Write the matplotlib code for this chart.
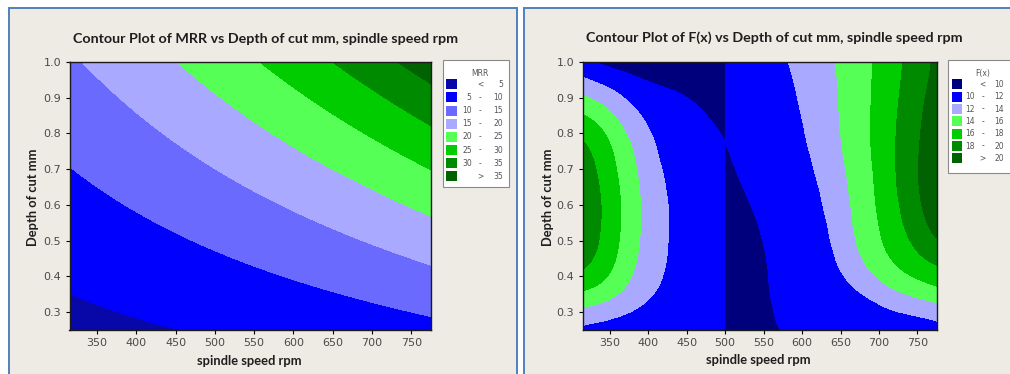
import numpy as np
import matplotlib as mpl
mpl.use("Agg")
import matplotlib.pyplot as plt
from matplotlib.patches import Rectangle
from matplotlib.ticker import FixedLocator, FormatStrFormatter

##########
## Data ##
##########

speed_range = [315,775]
depth_range = [0.25,1.0]
speed_ticks = [350,400,450,500,550,600,650,700,750]
depth_ticks = [0.3,0.4,0.5,0.6,0.7,0.8,0.9,1.0]

## MRR, points read along each contour boundary (rpm, mm, level)
mrr_speed = [315,373,426,
	315,352,395,437,480,522,564,607,649,692,734,775,
	337,373,416,458,501,543,586,628,671,713,775,
	452,522,564,607,649,692,734,775,
	550,607,649,692,734,775,
	649,713,775,
	728,775]
mrr_depth = [0.349,0.309,0.25,
	0.701,0.657,0.597,0.555,0.509,0.467,0.43,0.393,0.36,0.332,0.307,0.291,
	1.0,0.899,0.811,0.741,0.681,0.63,0.583,0.541,0.504,0.472,0.433,
	1.0,0.899,0.824,0.764,0.704,0.653,0.609,0.569,
	1.0,0.922,0.862,0.801,0.746,0.699,
	1.0,0.908,0.82,
	1.0,0.941]
mrr_level = [5]*3 + [10]*12 + [15]*11 + [20]*8 + [25]*6 + [30]*3 + [35]*2

mrr_bounds = [5,10,15,20,25,30,35]
mrr_colors = ["#0808A8","#0000FF","#6A6AFF","#A9A9FF","#55FF55","#00CC00","#008A00","#006200"]
mrr_rows   = [("","<","5"),("5","-","10"),("10","-","15"),("15","-","20"),
	("20","-","25"),("25","-","30"),("30","-","35"),("",">","35")]

## F(x), two branches on each side of 500 rpm
## boundary points, then a few points read inside the 10-12 band
fx_split = 500
fxL_speed = [329,333,377,441,463,485,499,
	315,333,355,377,398,411,422,426,424,418,405,385,355,315,
	315,338,359,377,385,390,389,383,368,342,315,
	315,338,351,359,364,362,355,338,315,
	315,329,338,340,336,325,315,
	470,480,470,495,497]
fxL_depth = [1.0,0.99,0.964,0.92,0.885,0.829,0.782,
	0.956,0.945,0.922,0.88,0.815,0.731,0.638,0.564,0.489,0.406,0.35,0.313,0.289,0.275,
	0.908,0.885,0.838,0.778,0.703,0.61,0.526,0.433,0.359,0.322,0.3125,
	0.852,0.824,0.768,0.685,0.592,0.508,0.433,0.378,0.359,
	0.787,0.731,0.638,0.582,0.489,0.433,0.415,
	0.6,0.4,0.27,0.3,0.7]
fxL_level = [10]*7 + [12]*14 + [14]*11 + [16]*9 + [18]*7 + [11,11,11.2,11,10.4]

fxR_speed = [500,511,528,545,558,567,571,
	584,593,604,614,625,636,645,658,679,701,736,775,
	642,647,653,660,664,671,684,710,744,775,
	692,690,694,701,714,736,775,
	731,725,722,729,744,775,
	768,757,753,750,755,766,775,
	510,540,560,600,650,720,590]
fxR_depth = [0.782,0.713,0.62,0.517,0.415,0.303,0.252,
	1.0,0.917,0.824,0.731,0.638,0.545,0.471,0.406,0.359,0.331,0.303,0.285,
	1.0,0.824,0.731,0.638,0.545,0.471,0.415,0.368,0.34,0.3265,
	1.0,0.824,0.685,0.545,0.452,0.406,0.368,
	1.0,0.871,0.731,0.592,0.499,0.433,
	1.0,0.871,0.778,0.685,0.592,0.527,0.499,
	0.95,0.9,0.75,0.4,0.3,0.27,0.26]
fxR_level = [10]*7 + [12]*12 + [14]*10 + [16]*7 + [18]*6 + [20]*7 + [10.8,11,11,11,11,11.3,10.6]

fx_bounds = [10,12,14,16,18,20]
fx_colors = ["#00007C","#0000FF","#A9A9FF","#55FF55","#00CC00","#008A00","#006200"]
fx_rows   = [("","<","10"),("10","-","12"),("12","-","14"),("14","-","16"),
	("16","-","18"),("18","-","20"),("",">","20")]

###############
## Fonctions ##
###############

W,H = 1010,374
bold_font = ["Lato","DejaVu Sans"]

def norm_xy( x , y ):##{{{
	## same scale as on screen (plot box 354 x 268 px)
	u = ( np.asarray(x,float).ravel() - speed_range[0] ) / 460. * 1.32
	v = ( np.asarray(y,float).ravel() - depth_range[0] ) / 0.75
	return np.column_stack([u,v])
##}}}

def fit_poly( x , y , z , deg ):##{{{
	## least squares polynomial surface (response surface)
	def feat( X , Y ):
		P = norm_xy(X,Y) - 0.6
		return np.stack( [ P[:,0]**i * P[:,1]**j for i in range(deg+1) for j in range(deg+1-i) ] , axis = -1 )
	coef,_,_,_ = np.linalg.lstsq( feat(x,y) , np.asarray(z,float) , rcond = None )
	return lambda X,Y : ( feat(X,Y) @ coef ).reshape(np.shape(X))
##}}}

def tps_kernel( r ):##{{{
	return np.where( r > 0 , r**2 * np.log( np.maximum(r,1e-12) ) , 0. )
##}}}

def fit_tps( x , y , z , lam = 0.01 ):##{{{
	## thin plate spline through the points
	P = norm_xy(x,y)
	n = P.shape[0]
	K = tps_kernel( np.linalg.norm( P[:,None,:] - P[None,:,:] , axis = -1 ) )
	Q = np.column_stack( [np.ones(n),P] )
	A = np.zeros( (n+3,n+3) )
	A[:n,:n] = K + lam * np.eye(n)
	A[:n,n:] = Q
	A[n:,:n] = Q.T
	sol = np.linalg.solve( A , np.concatenate( [np.asarray(z,float),np.zeros(3)] ) )
	w,c = sol[:n],sol[n:]
	def f( X , Y ):
		G = norm_xy(X,Y)
		Kg = tps_kernel( np.linalg.norm( G[:,None,:] - P[None,:,:] , axis = -1 ) )
		return ( Kg @ w + c[0] + G @ c[1:] ).reshape(np.shape(X))
	return f
##}}}

def px_rect( l , t , r , b ):##{{{
	return [ l / W , 1 - b / H , (r - l) / W , (b - t) / H ]
##}}}

def style_axes( ax ):##{{{
	ax.set_xlim(speed_range)
	ax.set_ylim(depth_range)
	ax.xaxis.set_major_locator( FixedLocator(speed_ticks) )
	ax.yaxis.set_major_locator( FixedLocator(depth_ticks) )
	ax.yaxis.set_major_formatter( FormatStrFormatter("%.1f") )
	ax.tick_params( direction = "out" , length = 3 , width = 0.8 , pad = 3 , labelsize = 8 , labelcolor = "#4a4a4a" )
	for s in ax.spines.values():
		s.set_linewidth(1.0)
		s.set_color("#1a1a1a")
##}}}

def draw_legend( bg , box , title , rows , colors , row0 , dy , cols ):##{{{
	l,t,r,b = box
	bg.add_patch( Rectangle( (l,t) , r - l , b - t , facecolor = "white" , edgecolor = "#8a8a8a" , lw = 0.8 ) )
	bg.text( cols[0] + 8 , t + 13.5 , title , ha = "center" , va = "center" , fontsize = 5.5 , color = "#555555" )
	for i,(lo,sym,hi) in enumerate(rows):
		yc = row0 + i * dy
		bg.add_patch( Rectangle( (l + 3.5 , yc - 5) , 10.5 , 10 , facecolor = colors[i] , edgecolor = "none" ) )
		bg.text( cols[0] , yc , lo  , ha = "right"  , va = "center" , fontsize = 5.5 , color = "#555555" )
		bg.text( cols[1] , yc , sym , ha = "center" , va = "center" , fontsize = 5.5 , color = "#555555" )
		bg.text( cols[2] , yc , hi  , ha = "right"  , va = "center" , fontsize = 5.5 , color = "#555555" )
##}}}

def plot():##{{{
	fig = plt.figure( figsize = (W/100,H/100) , dpi = 100 )
	fig.patch.set_facecolor("white")
	
	## Background: panels, titles, legends
	bg = fig.add_axes([0,0,1,1])
	bg.set_xlim(0,W)
	bg.set_ylim(H,0)
	bg.axis("off")
	bg.set_zorder(-1)
	for l,r in [(9,517),(524,1030)]:
		bg.add_patch( Rectangle( (l,8) , r - l , 400 , facecolor = "#EDEBE4" , edgecolor = "#4F81BD" , lw = 1.4 ) )
	
	ys = np.linspace( depth_range[0] , depth_range[1] , 300 )
	
	## MRR
	ax = fig.add_axes( px_rect( 69.5 , 62 , 431 , 330 ) )
	X,Y = np.meshgrid( np.linspace( speed_range[0] , speed_range[1] , 460 ) , ys )
	Z  = fit_poly( mrr_speed , mrr_depth , mrr_level , 3 )(X,Y)
	ax.contourf( X , Y , Z , levels = [-1e6] + mrr_bounds + [1e6] , colors = mrr_colors )
	style_axes(ax)
	
	## F(x)
	ax = fig.add_axes( px_rect( 582.7 , 62 , 936.7 , 330 ) )
	fL = fit_tps( fxL_speed , fxL_depth , fxL_level , 0.01 )
	fR = fit_tps( fxR_speed , fxR_depth , fxR_level , 0.01 )
	lev = [-1e6] + fx_bounds + [1e6]
	XL,YL = np.meshgrid( np.linspace( speed_range[0] , fx_split , 220 ) , ys )
	XR,YR = np.meshgrid( np.linspace( fx_split , speed_range[1] , 320 ) , ys )
	ax.contourf( XL , YL , fL(XL,YL) , levels = lev , colors = fx_colors )
	ax.contourf( XR , YR , fR(XR,YR) , levels = lev , colors = fx_colors )
	style_axes(ax)
	
	## Texts
	kw = dict( fontsize = 10.3 , fontweight = "bold" , family = bold_font , color = "#1e1e1e" , ha = "center" , va = "center" )
	bg.text( 265.5 , 39 , "Contour Plot of MRR vs Depth of cut mm, spindle speed rpm" , **kw )
	bg.text( 774 , 38 , "Contour Plot of F(x) vs Depth of cut mm, spindle speed rpm" , **kw )
	kw["fontsize"] = 9.3
	bg.text( 249 , 361 , "spindle speed rpm" , **kw )
	bg.text( 758 , 360 , "spindle speed rpm" , **kw )
	bg.text( 33  , 197 , "Depth of cut mm" , rotation = 90 , **kw )
	bg.text( 548 , 197 , "Depth of cut mm" , rotation = 90 , **kw )
	
	## Legends
	draw_legend( bg , (442.7,60,509,187.3) , "MRR"  , mrr_rows , mrr_colors , 84.3 , 13.15 , (471.7,480,503) )
	draw_legend( bg , (948.3,60,1030,173)  , "F(x)" , fx_rows  , fx_colors  , 84.3 , 12.35 , (975,982.7,1004) )
	
	fig.savefig( "out.png" , dpi = 100 , facecolor = "white" )
	plt.close(fig)
##}}}

##########
## main ##
##########

if __name__ == "__main__":
	plot()
